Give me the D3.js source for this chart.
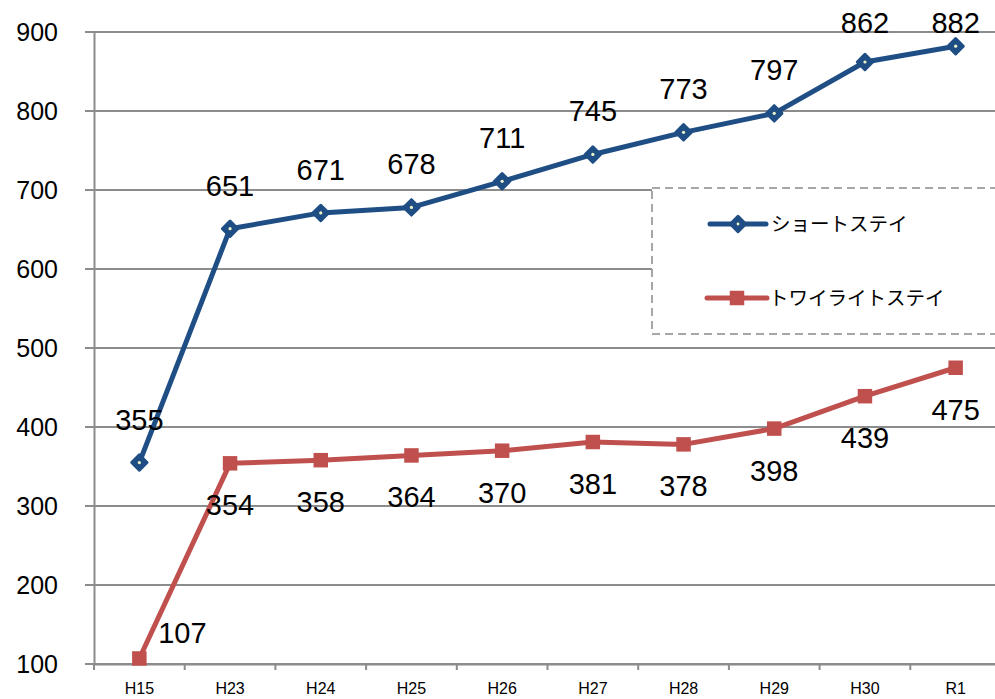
<!DOCTYPE html>
<html>
<head>
<meta charset="utf-8">
<script src="https://cdn.jsdelivr.net/npm/d3@7"></script>
<style>
  body { margin: 0; background: #fff; }
  svg { display: block; }
</style>
</head>
<body>
<div id="chart"></div>
<script>
/* Data */
const YEARS = ["H15", "H23", "H24", "H25", "H26", "H27", "H28", "H29", "H30", "R1"];
const SHORT_STAY = [355, 651, 671, 678, 711, 745, 773, 797, 862, 882];
const TWILIGHT_STAY = [107, 354, 358, 364, 370, 381, 378, 398, 439, 475];
const SERIES_NAMES = ["ショートステイ", "トワイライトステイ"];
const Y_TICKS = [100, 200, 300, 400, 500, 600, 700, 800, 900];

/* Layout */
const WIDTH = 995;
const HEIGHT = 699;
const LEFT = 94;
const RIGHT = 1001;
const TOP = 32;
const BOTTOM = 664;
const BLUE = "#1f4e85";
const RED = "#c0504d";
const GRID = "#8c8c8c";
const FONT = "'Liberation Sans', Arial, sans-serif";
const LABEL_SIZE = 29;

const svg = d3.select("#chart")
              .append("svg")
              .attr("width", WIDTH)
              .attr("height", HEIGHT);

const xScale = d3.scaleBand().domain(YEARS).range([LEFT, RIGHT]).padding(0);
const yScale = d3.scaleLinear().domain([100, 900]).range([BOTTOM, TOP]);
const xMid = (d) => xScale(d) + xScale.bandwidth() / 2;

/* Gridlines */
svg.append("g")
   .selectAll("line")
   .data(Y_TICKS)
   .enter()
   .append("line")
   .attr("x1", LEFT - 9)
   .attr("x2", WIDTH)
   .attr("y1", (d) => yScale(d))
   .attr("y2", (d) => yScale(d))
   .attr("stroke", GRID)
   .attr("stroke-width", 2);

/* Y axis */
const yAxis = svg.append("g")
                 .attr("transform", "translate(" + LEFT + ",0)")
                 .call(d3.axisLeft(yScale).tickValues(Y_TICKS).tickSize(0).tickPadding(36));
yAxis.select(".domain").attr("stroke", GRID).attr("stroke-width", 2);
yAxis.selectAll("text")
     .attr("font-family", FONT)
     .attr("font-size", 25)
     .attr("fill", "#000");

/* X axis */
const xAxis = svg.append("g")
                 .attr("transform", "translate(0," + BOTTOM + ")")
                 .call(d3.axisBottom(xScale).tickSize(0).tickPadding(19));
xAxis.select(".domain").attr("stroke", GRID).attr("stroke-width", 2);
xAxis.selectAll("text")
     .attr("font-family", FONT)
     .attr("font-size", 16)
     .attr("fill", "#000");
xAxis.selectAll(".bound")
     .data(YEARS)
     .enter()
     .append("line")
     .attr("class", "bound")
     .attr("x1", (d) => xScale(d))
     .attr("x2", (d) => xScale(d))
     .attr("y1", 0)
     .attr("y2", 6)
     .attr("stroke", GRID)
     .attr("stroke-width", 2);

/* Legend box (drawn before lines so it hides gridlines only) */
const legend = svg.append("g");
legend.append("rect")
      .attr("x", 652)
      .attr("y", 188)
      .attr("width", 360)
      .attr("height", 146)
      .attr("fill", "#fff")
      .attr("stroke", "#a6a6a6")
      .attr("stroke-width", 2)
      .attr("stroke-dasharray", "8,5");

/* Lines */
const line = d3.line().x((d, i) => xMid(YEARS[i])).y((d) => yScale(d));

svg.append("path")
   .datum(SHORT_STAY)
   .attr("d", line)
   .attr("fill", "none")
   .attr("stroke", BLUE)
   .attr("stroke-width", 5)
   .attr("stroke-linejoin", "round");

svg.append("path")
   .datum(TWILIGHT_STAY)
   .attr("d", line)
   .attr("fill", "none")
   .attr("stroke", RED)
   .attr("stroke-width", 5)
   .attr("stroke-linejoin", "round");

/* Markers */
const diamond = d3.symbol().type(d3.symbolDiamond2).size(150);
const square = d3.symbol().type(d3.symbolSquare).size(210);

svg.append("g")
   .selectAll("path")
   .data(SHORT_STAY)
   .enter()
   .append("path")
   .attr("d", diamond)
   .attr("transform", (d, i) => "translate(" + xMid(YEARS[i]) + "," + yScale(d) + ")")
   .attr("fill", BLUE)
   .attr("stroke", BLUE)
   .attr("stroke-width", 3)
   .attr("stroke-linejoin", "round");
svg.append("g")
   .selectAll("circle")
   .data(SHORT_STAY)
   .enter()
   .append("circle")
   .attr("cx", (d, i) => xMid(YEARS[i]))
   .attr("cy", (d) => yScale(d))
   .attr("r", 1.6)
   .attr("fill", "#eef5c8");

svg.append("g")
   .selectAll("path")
   .data(TWILIGHT_STAY)
   .enter()
   .append("path")
   .attr("d", square)
   .attr("transform", (d, i) => "translate(" + xMid(YEARS[i]) + "," + yScale(d) + ")")
   .attr("fill", RED);

/* Data labels: above the blue points (kept inside the top edge) */
svg.append("g")
   .selectAll("text")
   .data(SHORT_STAY)
   .enter()
   .append("text")
   .attr("x", (d, i) => xMid(YEARS[i]))
   .attr("y", (d) => Math.max(yScale(d) - 33, 33))
   .attr("text-anchor", "middle")
   .attr("font-family", FONT)
   .attr("font-size", LABEL_SIZE)
   .text((d) => d);

svg.append("g")
   .selectAll("text")
   .data(TWILIGHT_STAY)
   .enter()
   .append("text")
   // label that would drop below the axis goes to the right of its point
   .attr("x", (d, i) => yScale(d) + 52 > BOTTOM ? xMid(YEARS[i]) + 43 : xMid(YEARS[i]))
   .attr("y", (d) => yScale(d) + 52 > BOTTOM ? yScale(d) - 15 : yScale(d) + 52)
   .attr("text-anchor", "middle")
   .attr("font-family", FONT)
   .attr("font-size", LABEL_SIZE)
   .text((d) => d);

/* Legend entries */
const legendItems = [
  {name: SERIES_NAMES[0], color: BLUE, y: 224, x1: 710, x2: 766, textX: 771},
  {name: SERIES_NAMES[1], color: RED, y: 298, x1: 707, x2: 767, textX: 769}
];
legendItems.forEach((item, k) => {
  legend.append("line")
        .attr("x1", item.x1)
        .attr("x2", item.x2)
        .attr("y1", item.y)
        .attr("y2", item.y)
        .attr("stroke", item.color)
        .attr("stroke-width", 5)
        .attr("stroke-linecap", "round");
  legend.append("path")
        .attr("d", k === 0 ? diamond : square)
        .attr("transform", "translate(" + (item.x1 + item.x2) / 2 + "," + item.y + ")")
        .attr("fill", item.color)
        .attr("stroke", k === 0 ? item.color : "none")
        .attr("stroke-width", 3)
        .attr("stroke-linejoin", "round");
  if (k === 0) {
    legend.append("circle")
          .attr("cx", (item.x1 + item.x2) / 2)
          .attr("cy", item.y)
          .attr("r", 1.4)
          .attr("fill", "#eef5c8");
  }
  legend.append("text")
        .attr("x", item.textX)
        .attr("y", item.y)
        .attr("dy", "0.35em")
        .attr("font-family", "'Noto Sans CJK JP', sans-serif")
        .attr("font-size", 19.5)
        .attr("fill", "#000")
        .text(item.name);
});
</script>
</body>
</html>
